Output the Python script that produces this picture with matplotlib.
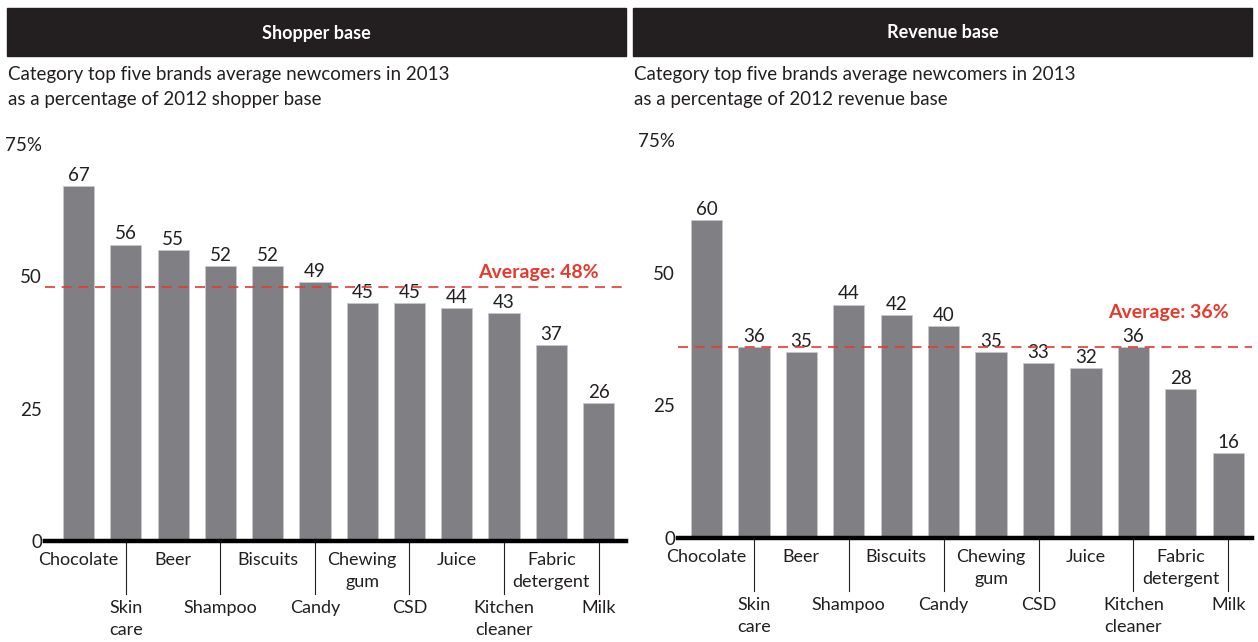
import matplotlib
matplotlib.use("Agg")
import matplotlib.pyplot as plt
import matplotlib.transforms as mtransforms
from matplotlib.patches import Rectangle

plt.rcParams['font.family'] = ['Lato', 'DejaVu Sans']

categories = ['Chocolate', 'Skin\ncare', 'Beer', 'Shampoo', 'Biscuits', 'Candy',
              'Chewing\ngum', 'CSD', 'Juice', 'Kitchen\ncleaner', 'Fabric\ndetergent', 'Milk']
shopper_values = [67, 56, 55, 52, 52, 49, 45, 45, 44, 43, 37, 26]
revenue_values = [60, 36, 35, 44, 42, 40, 35, 33, 32, 36, 28, 16]
shopper_avg = 48
revenue_avg = 36
y_ticks = [0, 25, 50, 75]
y_tick_labels = ['0', '25', '50', '75%']

headers = ['Shopper base', 'Revenue base']
subtitles = ['Category top five brands average newcomers in 2013\nas a percentage of 2012 shopper base',
             'Category top five brands average newcomers in 2013\nas a percentage of 2012 revenue base']

W, H = 1258, 642
BAR = '#808084'
DARK = '#231f20'
RED = '#e8392d'

fig = plt.figure(figsize=(W / 100, H / 100), dpi=100)


def fx(px):
    return px / W


def fy(px):
    return 1 - px / H


panels = [
    dict(values=shopper_values, avg=shopper_avg, x0=45, x1=626, y0=541, y75=144,
         xlim=(-0.71, 11.58), hx0=7, hx1=626, avg_off=4),
    dict(values=revenue_values, avg=revenue_avg, x0=678, x1=1252, y0=538, y75=140,
         xlim=(-0.6, 11.5), hx0=633, hx1=1252, avg_off=19),
]

for p, head, sub in zip(panels, headers, subtitles):
    # header band
    fig.patches.append(Rectangle((fx(p['hx0']), fy(56)), fx(p['hx1'] - p['hx0']), 48 / H,
                                 transform=fig.transFigure, color=DARK, zorder=0))
    fig.text(fx((p['hx0'] + p['hx1']) / 2), fy(33), head, color='white', fontsize=13,
             fontweight='bold', ha='center', va='center')
    fig.text(fx(p['hx0'] + 1), fy(66), sub, color=DARK, fontsize=13.5, ha='left', va='top',
             linespacing=1.55)

    ax = fig.add_axes([fx(p['x0']), fy(p['y0']), fx(p['x1'] - p['x0']), (p['y0'] - p['y75']) / H])
    ax_h = p['y0'] - p['y75']
    idx = list(range(len(categories)))
    ax.bar(idx, p['values'], width=0.66, color=BAR, edgecolor='#c8c8cc', linewidth=0.6)
    for i, v in zip(idx, p['values']):
        ax.annotate(str(v), (i, v), xytext=(0, 1.5), textcoords='offset points',
                    ha='center', va='bottom', fontsize=13.5, color=DARK)

    ax.set_xlim(*p['xlim'])
    ax.set_ylim(0, 75)
    ax.set_yticks(y_ticks)
    ax.set_yticklabels(y_tick_labels, fontsize=13.5, color=DARK)
    ax.tick_params(axis='y', length=0, pad=2)
    ax.set_xticks([])
    for s in ax.spines.values():
        s.set_visible(False)
    ax.axhline(0, color='black', lw=3.2, clip_on=False, zorder=5)

    # average line and label
    ax.axhline(p['avg'], color=RED, lw=1.2, dashes=(6, 4), zorder=4)
    ax.annotate(f'Average: {p["avg"]}%', (11.0, p['avg']), xytext=(0, p['avg_off']),
                textcoords='offset points', ha='right', va='bottom', fontsize=14,
                fontweight='bold', color=RED)

    # staggered category labels with leader ticks
    tr = mtransforms.blended_transform_factory(ax.transData, ax.transAxes)
    for i, name in enumerate(categories):
        if i % 2 == 0:
            ax.text(i, -11 / ax_h, name, transform=tr, ha='center', va='top', fontsize=13,
                    color=DARK, linespacing=1.45)
        else:
            ax.plot([i, i], [0, -53 / ax_h], transform=tr, color=DARK, lw=0.8, clip_on=False)
            ax.text(i, -59 / ax_h, name, transform=tr, ha='center', va='top', fontsize=13,
                    color=DARK, linespacing=1.45)

fig.savefig('out.png', dpi=100)
